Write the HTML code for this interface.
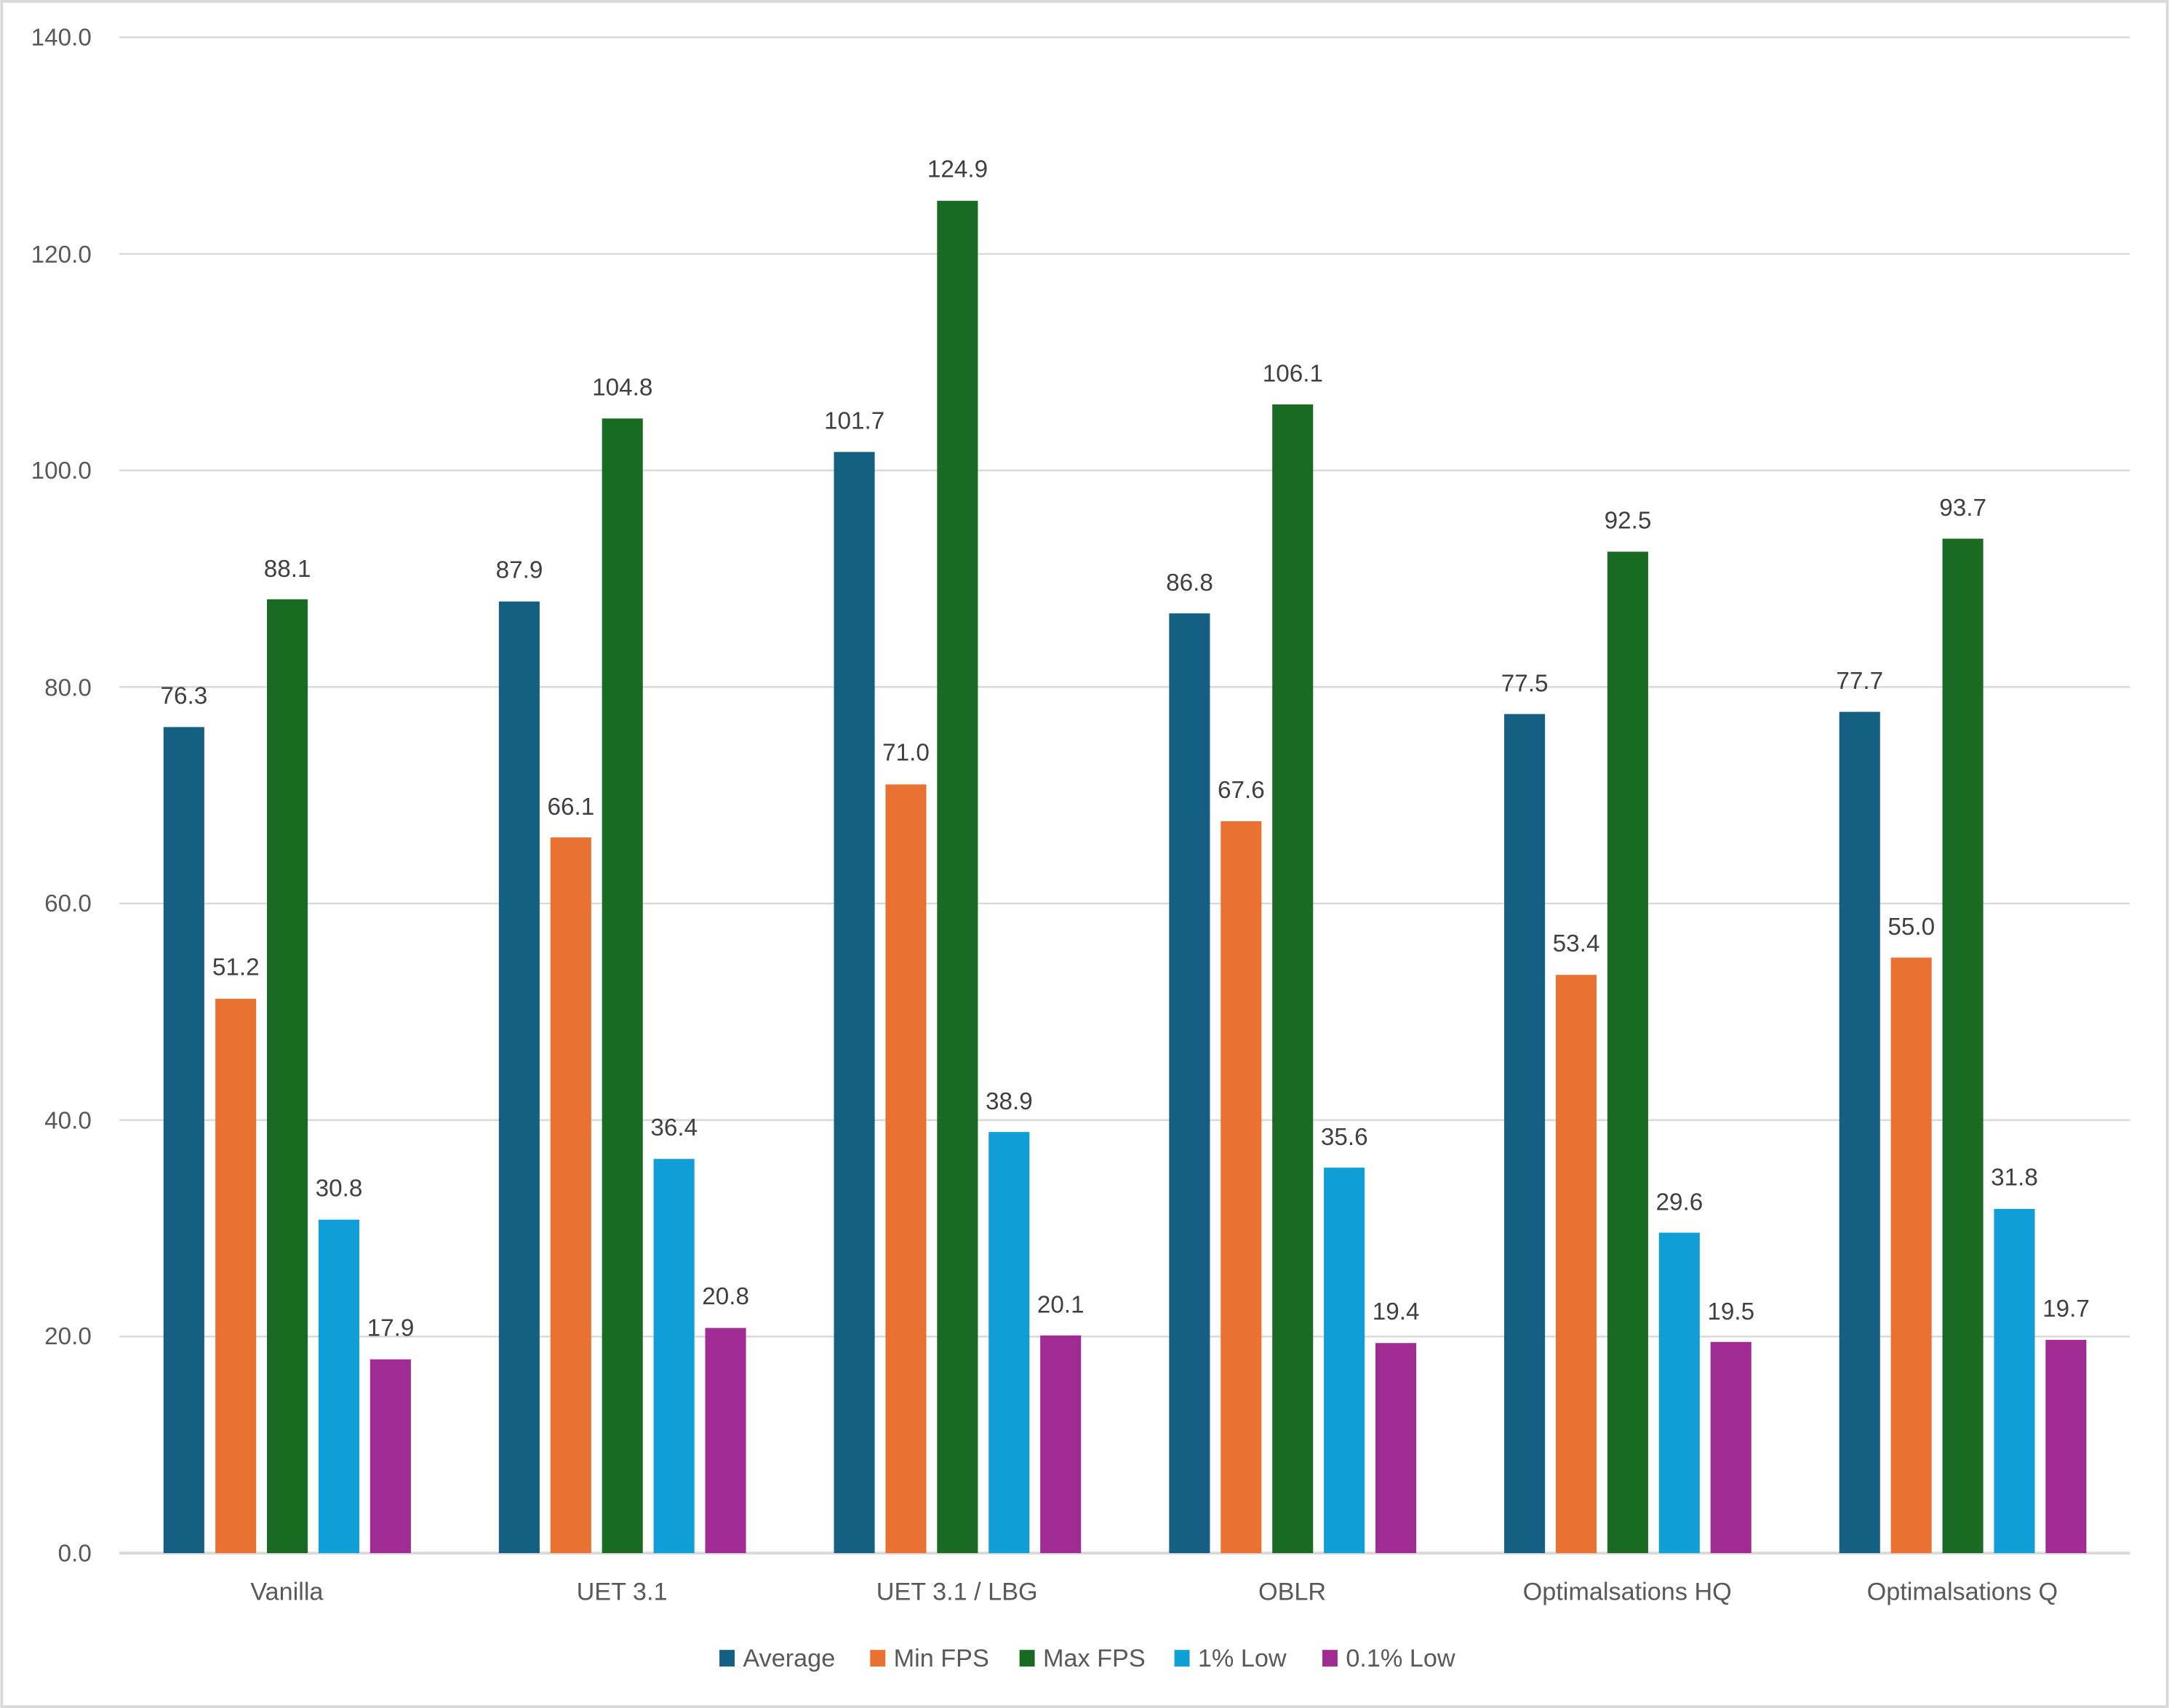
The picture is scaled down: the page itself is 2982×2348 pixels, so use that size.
<!DOCTYPE html>
<html><head><meta charset="utf-8"><style>html,body{margin:0;padding:0;background:#fff}svg{display:block}</style></head><body>
<svg width="2982" height="2348" viewBox="0 0 1568 1235" xmlns="http://www.w3.org/2000/svg" font-family="Liberation Sans, sans-serif">
<rect x="1" y="1" width="1566" height="1233" fill="#fff" stroke="#d9d9d9" stroke-width="2"/>
<g stroke="#d9d9d9" stroke-width="1.3">
<line x1="86" x2="1540" y1="27" y2="27"/><line x1="86" x2="1540" y1="183.6" y2="183.6"/><line x1="86" x2="1540" y1="340.1" y2="340.1"/><line x1="86" x2="1540" y1="496.7" y2="496.7"/><line x1="86" x2="1540" y1="653.3" y2="653.3"/><line x1="86" x2="1540" y1="809.9" y2="809.9"/><line x1="86" x2="1540" y1="966.4" y2="966.4"/><line x1="86" x2="1540" y1="1123" y2="1123" stroke-width="2"/>
</g>
<g fill="#595959" font-size="17.5" text-anchor="end">
<text x="66" y="33">140.0</text><text x="66" y="190">120.0</text><text x="66" y="346">100.0</text><text x="66" y="503">80.0</text><text x="66" y="659">60.0</text><text x="66" y="816">40.0</text><text x="66" y="972">20.0</text><text x="66" y="1129">0.0</text>
</g>
<g>
<rect x="118" y="525.7" width="29.5" height="597.3" fill="#156082"/><rect x="155.5" y="722.2" width="29.5" height="400.8" fill="#E97132"/><rect x="192.8" y="433.3" width="29.5" height="689.7" fill="#196B24"/><rect x="230.1" y="881.9" width="29.5" height="241.1" fill="#0F9ED5"/><rect x="267.4" y="982.9" width="29.5" height="140.1" fill="#A02B93"/>
<rect x="360.5" y="434.9" width="29.5" height="688.1" fill="#156082"/><rect x="397.8" y="605.5" width="29.5" height="517.5" fill="#E97132"/><rect x="435.1" y="302.6" width="29.5" height="820.4" fill="#196B24"/><rect x="472.4" y="838" width="29.5" height="285" fill="#0F9ED5"/><rect x="509.7" y="960.2" width="29.5" height="162.8" fill="#A02B93"/>
<rect x="602.8" y="326.8" width="29.5" height="796.2" fill="#156082"/><rect x="640.1" y="567.2" width="29.5" height="555.8" fill="#E97132"/><rect x="677.4" y="145.2" width="29.5" height="977.8" fill="#196B24"/><rect x="714.7" y="818.5" width="29.5" height="304.5" fill="#0F9ED5"/><rect x="752" y="965.6" width="29.5" height="157.4" fill="#A02B93"/>
<rect x="845.2" y="443.5" width="29.5" height="679.5" fill="#156082"/><rect x="882.5" y="593.8" width="29.5" height="529.2" fill="#E97132"/><rect x="919.8" y="292.4" width="29.5" height="830.6" fill="#196B24"/><rect x="957.1" y="844.3" width="29.5" height="278.7" fill="#0F9ED5"/><rect x="994.4" y="971.1" width="29.5" height="151.9" fill="#A02B93"/>
<rect x="1087.5" y="516.3" width="29.5" height="606.7" fill="#156082"/><rect x="1124.8" y="704.9" width="29.5" height="418.1" fill="#E97132"/><rect x="1162.1" y="398.9" width="29.5" height="724.1" fill="#196B24"/><rect x="1199.4" y="891.3" width="29.5" height="231.7" fill="#0F9ED5"/><rect x="1236.7" y="970.3" width="29.5" height="152.7" fill="#A02B93"/>
<rect x="1329.8" y="514.7" width="29.5" height="608.3" fill="#156082"/><rect x="1367.1" y="692.4" width="29.5" height="430.6" fill="#E97132"/><rect x="1404.4" y="389.5" width="29.5" height="733.5" fill="#196B24"/><rect x="1441.7" y="874.1" width="29.5" height="248.9" fill="#0F9ED5"/><rect x="1479" y="968.8" width="29.5" height="154.2" fill="#A02B93"/>
</g>
<g fill="#404040" font-size="17.5" text-anchor="middle">
<text x="132.8" y="509">76.3</text><text x="170.3" y="705">51.2</text><text x="207.6" y="417">88.1</text><text x="244.9" y="865">30.8</text><text x="282.2" y="966">17.9</text>
<text x="375.3" y="418">87.9</text><text x="412.6" y="589">66.1</text><text x="449.9" y="286">104.8</text><text x="487.2" y="821">36.4</text><text x="524.5" y="943">20.8</text>
<text x="617.6" y="310">101.7</text><text x="654.9" y="550">71.0</text><text x="692.2" y="128">124.9</text><text x="729.5" y="802">38.9</text><text x="766.8" y="949">20.1</text>
<text x="860" y="427">86.8</text><text x="897.3" y="577">67.6</text><text x="934.6" y="276">106.1</text><text x="971.9" y="828">35.6</text><text x="1009.2" y="954">19.4</text>
<text x="1102.3" y="500">77.5</text><text x="1139.6" y="688">53.4</text><text x="1176.9" y="382">92.5</text><text x="1214.2" y="875">29.6</text><text x="1251.5" y="954">19.5</text>
<text x="1344.6" y="498">77.7</text><text x="1381.9" y="676">55.0</text><text x="1419.2" y="373">93.7</text><text x="1456.5" y="857">31.8</text><text x="1493.8" y="952">19.7</text>
</g>
<g fill="#595959" font-size="18" text-anchor="middle">
<text x="207.2" y="1157">Vanilla</text><text x="449.5" y="1157">UET 3.1</text><text x="691.8" y="1157">UET 3.1 / LBG</text><text x="934.2" y="1157">OBLR</text><text x="1176.5" y="1157">Optimalsations HQ</text><text x="1418.8" y="1157">Optimalsations Q</text>
</g>
<g font-size="18" fill="#595959">
<rect x="520" y="1193" width="11" height="12" fill="#156082"/><text x="537" y="1205">Average</text>
<rect x="629" y="1193" width="11" height="12" fill="#E97132"/><text x="646" y="1205">Min FPS</text>
<rect x="737" y="1193" width="11" height="12" fill="#196B24"/><text x="754" y="1205">Max FPS</text>
<rect x="849" y="1193" width="11" height="12" fill="#0F9ED5"/><text x="866" y="1205">1% Low</text>
<rect x="956" y="1193" width="11" height="12" fill="#A02B93"/><text x="973" y="1205">0.1% Low</text>
</g>
</svg>
</body></html>
